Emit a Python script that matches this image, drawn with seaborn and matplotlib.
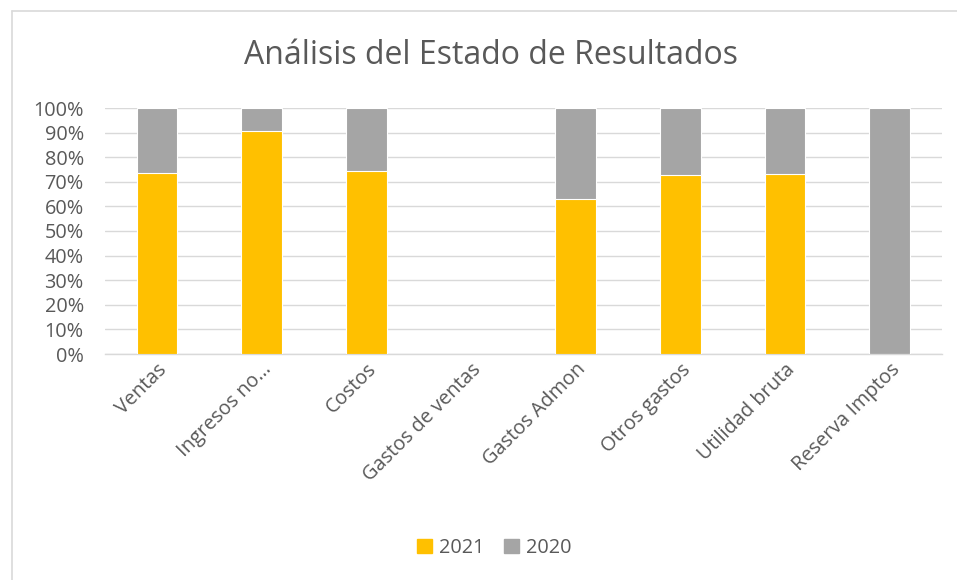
import matplotlib
matplotlib.use("Agg")
import matplotlib.pyplot as plt
from matplotlib.lines import Line2D
from matplotlib.ticker import PercentFormatter
import seaborn as sns
import pandas as pd

categories = ["Ventas", "Ingresos no…", "Costos", "Gastos de ventas",
              "Gastos Admon", "Otros gastos", "Utilidad bruta", "Reserva Imptos"]
share_2021 = [73.5, 90.8, 74.5, 0.0, 63.1, 72.9, 73.0, 0.0]
share_2020 = [26.5, 9.2, 25.5, 0.0, 36.9, 27.1, 27.0, 100.0]
series_names = ["2021", "2020"]

sns.set_theme(style="white")
plt.rcParams["font.family"] = ["Open Sans", "DejaVu Sans"]

df = pd.DataFrame({"cat": categories, "y2021": share_2021, "y2020": share_2020})
df["total"] = df["y2021"] + df["y2020"]

W, H = 957, 580
fig = plt.figure(figsize=(W / 100, H / 100), dpi=100)
ax = fig.add_axes([104.6 / W, 1 - 354 / H, (942 - 104.6) / W, (354 - 108) / H])

yellow = "#FFC000"
gray = "#A5A5A5"
sns.barplot(data=df, x="cat", y="total", color=gray, saturation=1, width=0.39,
            ax=ax, edgecolor="white", linewidth=0.8, zorder=3)
sns.barplot(data=df, x="cat", y="y2021", color=yellow, saturation=1, width=0.39,
            ax=ax, edgecolor="white", linewidth=0.8, zorder=4)

ax.set_ylim(0, 100)
ax.set_xlim(-0.5, len(categories) - 0.5)
ax.set_yticks(range(0, 101, 10))
ax.yaxis.set_major_formatter(PercentFormatter(decimals=0))
ax.grid(axis="y", color="#D9D9D9", linewidth=1, zorder=0)
ax.set_axisbelow(True)
for s in ["top", "right", "left"]:
    ax.spines[s].set_visible(False)
ax.spines["bottom"].set_color("#D9D9D9")
ax.spines["bottom"].set_linewidth(1)
ax.set_xlabel("")
ax.set_ylabel("")
ax.tick_params(axis="y", labelsize=14.3, colors="#595959", length=0, pad=15)
ax.tick_params(axis="x", labelsize=14.3, colors="#595959", length=0, pad=4)
plt.setp(ax.get_xticklabels(), rotation=45, ha="right", rotation_mode="anchor")

fig.text(491 / W, 1 - 55 / H, "Análisis del Estado de Resultados",
         ha="center", va="center", fontsize=23, color="#595959")

handles = [plt.Rectangle((0, 0), 1, 1, color=yellow),
           plt.Rectangle((0, 0), 1, 1, color=gray)]
fig.legend(handles, series_names, loc="center", bbox_to_anchor=(494 / W, 1 - 548 / H),
           ncol=2, frameon=False, fontsize=14.3, labelcolor="#595959",
           handlelength=0.75, handleheight=0.75, handletextpad=0.35, columnspacing=1.0)

fig.add_artist(Line2D([11.5 / W, 11.5 / W], [0, 1 - 10.5 / H], color="#D9D9D9",
                      linewidth=1.2, transform=fig.transFigure))
fig.add_artist(Line2D([11.5 / W, 1], [1 - 10.5 / H, 1 - 10.5 / H], color="#D9D9D9",
                      linewidth=1.2, transform=fig.transFigure))

fig.savefig("out.png", dpi=100, facecolor="white")
